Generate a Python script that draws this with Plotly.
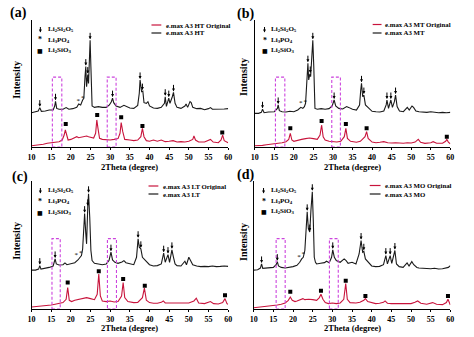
import plotly.graph_objects as go

# ---------------- data (2Theta in degree, intensity in a.u., black pattern offset upward) -------------
tt_black_a = [10.0,11.0,11.7,12.1,12.5,13.5,14.5,15.5,15.9,16.1,16.4,17.0,18.0,18.8,19.5,20.5,21.5,22.0,22.5,23.0,23.3,23.6,23.8,24.0,24.3,24.5,24.7,24.9,25.1,25.4,26.0,27.0,28.0,29.0,29.8,30.3,30.6,30.9,31.5,32.5,33.5,34.0,35.0,36.0,37.0,37.4,37.6,38.0,38.3,38.6,39.2,39.6,40.0,41.0,42.0,43.0,43.8,44.0,44.3,44.9,45.2,45.8,46.1,46.5,47.0,48.0,49.0,49.3,49.7,50.3,50.6,51.0,52.0,53.0,54.0,55.0,55.5,56.0,57.0,58.0,59.0,60.0]
I_black_a = [27.0,27.6,28.3,31.0,28.1,28.3,29.1,29.1,32.3,36.0,30.4,29.7,29.7,31.0,29.7,30.2,31.2,33.9,33.1,37.0,38.3,55.4,63.3,47.5,57.0,50.1,68.5,84.0,63.0,32.3,31.2,31.8,31.2,31.2,33.1,35.7,38.5,34.9,32.3,31.2,32.8,32.3,30.7,30.4,32.8,42.3,52.8,43.6,44.0,34.9,34.4,35.7,32.3,30.7,30.4,31.2,34.4,39.6,32.0,38.5,34.4,39.6,43.0,34.4,31.2,30.4,32.3,33.9,31.2,35.7,34.9,31.2,30.2,30.4,29.4,30.2,31.0,29.7,29.7,29.4,29.9,30.2]
tt_red_a = [10,11,12,13,14,15,16,17,17.8,18.3,18.6,18.9,19.3,20,21,21.5,22,23,24,24.5,25,25.8,26.3,26.6,26.9,27.3,28,29,30,31,32,32.5,32.8,33.2,33.7,35,36,37,37.8,38.2,38.6,39.2,40,41,42,43,44,45,46,47,48,49,50,51,51.3,51.7,52.5,54,55,55.5,56.2,57.5,58.2,58.6,59.0,60]
I_red_a = [1.0,1.3,1.8,2.1,2.9,3.4,3.7,4.2,5.5,9.4,13.4,9.4,5.5,6.0,7.6,8.1,7.3,8.1,8.7,8.1,7.6,7.1,10.8,21.3,14.7,6.8,6.0,5.5,5.5,6.0,6.6,10.8,19.2,12.1,6.0,5.5,5.0,5.5,8.1,14.7,8.1,5.0,4.5,5.5,4.5,5.5,4.2,4.5,5.0,3.9,4.2,3.9,4.5,6.0,8.7,5.5,3.9,3.9,5.5,6.0,3.9,3.4,5.5,9.4,5.0,3.4]

tt_black_b = [10,11,11.7,12.0,12.4,13.5,15,15.8,16.0,16.3,17,18,19,20,21,21.8,22.3,22.7,23.0,23.4,23.6,23.8,24.1,24.3,24.6,24.85,25.1,25.4,26,27,28,29,29.8,30.3,30.7,31.5,32.5,33.5,34,35,36,36.8,37.1,37.3,37.6,37.9,38.3,39,39.5,40,41,42,43,43.6,43.8,44.2,44.8,45.2,45.7,46.0,46.4,47,48,49,49.5,50.2,50.6,51.2,52,53,54,55,56,57,58,59,60]
I_black_b = [26.5,26.5,27.3,29.7,27.0,27.6,27.8,30.4,33.1,28.6,27.8,27.6,28.1,27.8,29.1,31.2,30.4,31.8,34.4,52.8,66.0,52.8,57.5,55.4,76.4,84.0,63.3,30.4,29.7,30.2,29.7,30.2,32.3,37.0,32.3,30.4,29.9,31.8,31.2,29.7,29.1,33.1,44.9,50.1,39.6,40.9,33.1,31.2,29.1,28.1,27.8,27.6,28.3,33.1,37.0,30.4,37.0,31.2,35.7,40.9,31.8,28.3,27.8,31.2,29.1,32.3,31.2,28.3,27.8,27.6,27.3,27.8,27.3,27.0,27.3,27.0,27.3]
tt_red_b = [10,11,12,13,14,15,16,17,18,18.7,19.1,19.5,20,21,22,23,24,25,26,26.7,27.1,27.5,28,29,30,31,32,32.9,33.3,33.7,34.5,36,37,38.2,38.6,39.0,40,41,42,43,44,45,46,47,48,49,50,51,51.8,52.4,53.5,55,55.6,56.5,58,58.8,59.1,59.5,60]
I_red_b = [1.0,1.0,1.3,1.8,2.1,2.4,2.9,3.4,4.2,6.0,10.8,5.5,4.5,5.5,6.0,6.6,7.1,6.6,6.0,9.4,17.3,8.1,5.5,4.5,4.2,3.9,4.5,8.1,14.7,6.8,4.5,3.7,4.5,8.1,12.1,6.8,3.9,3.4,3.7,4.2,3.4,3.1,3.4,3.1,2.9,3.4,3.1,3.9,6.0,3.7,2.9,3.4,4.2,2.9,2.9,4.5,6.0,3.9,2.4]

tt_black_c = [10,11,11.8,12.1,12.4,13.5,14.5,15.5,15.8,16.0,16.3,17,18,18.5,19,20,21,21.8,22.3,22.7,23.0,23.3,23.5,23.8,24.0,24.3,24.5,24.8,25.1,25.4,26,27,28,29,29.7,30.2,30.6,31.2,32,33,33.5,34,35,36,36.7,37.1,37.4,37.8,38.2,38.9,39.5,40,41,42,43,43.6,44.0,44.7,45.1,45.7,46.1,46.5,47,48,49,49.4,50,50.5,51,52,53,54,55,56,57,58,59,60]
I_black_c = [30.4,30.4,31.2,33.9,31.2,31.8,32.5,33.6,36.5,39.1,35.2,34.4,34.6,36.0,34.6,35.2,36.2,38.3,40.4,41.7,47.0,64.0,74.5,58.8,50.9,79.8,90.0,71.9,45.7,37.8,35.7,35.2,34.6,35.2,37.8,44.4,38.3,36.5,35.7,36.7,37.8,36.2,35.2,34.6,40.4,54.9,48.3,47.0,40.4,38.3,36.5,34.6,33.6,33.9,35.2,43.6,36.5,42.5,36.5,46.2,40.4,35.2,33.9,33.6,37.3,34.6,40.4,37.3,34.6,33.6,33.1,33.3,33.1,33.6,33.1,33.3,33.6,33.3]
tt_red_c = [10,11,12,13,14,15,16,17,18,18.8,19.2,19.6,20.2,21,22,23,24,25,26,26.7,27.1,27.5,28,29,30,31,32,32.9,33.3,33.7,34.5,36,37,38.2,38.7,39.2,40,41,42,43,43.5,44,45,46,47,48,49,50,51.3,51.9,52.5,54,55.5,56.3,57.5,58.6,59.2,59.7,60]
I_red_c = [1.6,1.8,2.1,2.6,2.9,3.1,3.7,4.2,5.0,7.6,16.8,6.8,5.8,6.8,7.6,8.4,8.9,8.1,7.3,11.5,27.3,10.2,6.3,5.8,6.3,5.5,5.8,10.2,20.7,8.9,5.8,5.0,5.2,8.9,16.3,6.8,5.0,4.5,4.5,5.2,6.3,4.7,4.7,4.2,4.5,4.2,4.2,4.7,6.3,8.4,4.7,4.2,5.8,4.2,3.9,5.0,8.1,4.2,3.7]

tt_black_d = [10,11,11.7,12.0,12.3,13.5,15,15.7,16.0,16.3,17,18,19,20,21,21.7,22.2,22.6,23.0,23.3,23.6,23.9,24.25,24.55,24.9,25.15,25.4,25.7,26,27,28,28.5,29.2,29.8,30.1,30.5,31.0,32,33,33.5,34,35,36,36.8,37.3,37.7,38.0,38.4,39,39.5,40,41,42,43,43.6,44.0,44.7,45.1,45.6,45.9,46.3,47,48,49,49.5,50.2,50.7,51.5,52,53,54,55,56,57,58,59,59.5,60]
I_black_d = [30.4,30.7,32.0,35.2,31.8,32.0,32.5,34.6,37.0,33.6,32.5,32.0,32.5,33.1,34.1,36.5,39.1,40.4,45.7,64.0,75.9,62.7,60.1,77.2,91.6,69.3,40.4,36.5,35.2,35.7,36.2,37.3,36.2,40.4,46.2,40.4,37.8,36.5,39.1,37.8,35.7,36.5,35.2,43.0,53.5,44.4,45.1,39.1,37.3,35.2,33.6,33.1,33.3,34.6,41.7,35.2,41.7,35.7,43.0,45.7,35.2,33.1,32.5,36.0,33.6,37.0,34.6,32.5,32.0,31.8,32.0,31.5,31.8,31.2,31.5,32.0,32.5,33.9]
tt_red_d = [10,11,12,13,14,15,16,17,18,18.8,19.3,19.8,20.5,21,22,22.5,23,24,25,26,26.7,27.1,27.6,28.2,29,30,31,32,32.9,33.4,33.8,34.5,36,37,38,38.4,39,40,41,42,43,43.4,44,45,46,47,48,49,50,51,51.7,52.5,54,55.5,56.5,58,59,59.4,59.8,60]
I_red_d = [1.0,1.3,1.6,2.1,2.4,2.9,3.1,3.7,4.7,6.8,9.4,6.8,5.8,6.3,7.1,8.1,7.3,7.6,7.3,6.8,8.9,11.5,7.6,5.0,4.2,4.7,4.2,4.7,7.6,19.9,7.6,5.0,4.7,5.2,6.8,8.1,5.8,4.7,4.2,4.5,5.2,6.3,4.5,4.2,4.2,3.9,3.7,4.2,4.2,5.2,6.3,4.5,3.7,5.0,3.7,3.4,5.0,7.6,4.2,3.1]

# phase markers (position, height of peak top)
arrow_tt = {"a": [12.1,16.1,23.8,24.3,24.9,30.6,37.6,38.2,44.0,44.9,46.1],
            "b": [12.0,16.0,23.6,24.2,24.85,30.3,37.3,37.9,43.8,44.8,46.0],
            "c": [12.1,16.0,23.5,24.3,24.5,30.2,37.1,37.8,43.6,44.7,45.7],
            "d": [12.0,16.0,23.6,24.25,24.9,30.1,37.3,38.0,43.6,44.7,45.9]}
arrow_I = {"a": [31.0,36.0,63.3,57.0,84.0,38.5,52.8,44.0,39.6,38.5,43.0],
           "b": [29.7,33.1,66.0,57.5,84.0,37.0,50.1,40.9,37.0,37.0,40.9],
           "c": [33.9,39.1,74.5,79.8,90.0,44.4,54.9,47.0,43.6,42.5,46.2],
           "d": [35.2,37.0,75.9,60.1,91.6,46.2,53.5,45.1,41.7,41.7,45.7]}
star_tt = {"a": [21.9,23.0], "b": [21.8,22.9], "c": [21.4,22.5], "d": [21.5,22.6]}
star_I = {"a": [33.5,35.5], "b": [31.5,32.5], "c": [39.0,41.0], "d": [38.0,40.0]}
sq_tt = {"a": [18.7,26.7,32.8,38.2,58.5], "b": [19.1,27.1,33.3,38.6,59.1],
         "c": [19.2,27.1,33.3,38.8,59.2], "d": [19.3,27.1,33.4,38.4,59.4]}
sq_I = {"a": [18.1,25.2,23.4,16.5,11.5], "b": [14.7,20.5,18.1,14.7,8.1],
        "c": [20.7,29.4,23.4,18.1,10.8], "d": [13.4,14.2,22.0,10.2,10.2]}
# dashed boxes (2Theta ranges)
boxes = {"a": [(15.3,17.7),(29.25,31.5)], "b": [(15.3,17.7),(29.7,31.9)],
         "c": [(15.2,17.3),(29.3,31.6)], "d": [(15.7,18.0),(29.25,31.5)]}
box_top = 55
series_names = {"a": "HT", "b": "MT", "c": "LT", "d": "MO"}
xticks = [10, 15, 20, 25, 30, 35, 40, 45, 50, 55, 60]

data = {"a": (tt_black_a, I_black_a, tt_red_a, I_red_a),
        "b": (tt_black_b, I_black_b, tt_red_b, I_red_b),
        "c": (tt_black_c, I_black_c, tt_red_c, I_red_c),
        "d": (tt_black_d, I_black_d, tt_red_d, I_red_d)}

# ---------------- layout helpers ----------------
W, H = 474, 337
def px(x): return x / W
def py(y): return 1 - y / H

SERIF = "Liberation Serif"
RED = "#C8143C"
BLACK = "#1a1a1a"
MAG = "#CC44DD"

panels = {
    "a": dict(ax="", x0=28, x1=228, y0=147, y1=20, lab=(15, 13), inten=(12, 80), title_y=166.5,
              sym_x=37, txt_x=43, rows=(29, 39.5, 50), leg_x=(150, 160), leg_txt=163, leg_y=(25, 33)),
    "b": dict(ax="2", x0=255, x1=454, y0=147, y1=20, lab=(246, 14), inten=(243, 77), title_y=166.5,
              sym_x=265, txt_x=270, rows=(29, 40, 50), leg_x=(375, 384), leg_txt=386, leg_y=(24.5, 33)),
    "c": dict(ax="3", x0=28, x1=228, y0=309, y1=181, lab=(16, 177), inten=(12, 241), title_y=327.5,
              sym_x=37, txt_x=43, rows=(190, 201, 212), leg_x=(147, 157), leg_txt=160, leg_y=(186, 194)),
    "d": dict(ax="4", x0=254, x1=454, y0=309, y1=181, lab=(246, 175), inten=(243, 242), title_y=327.5,
              sym_x=264, txt_x=270, rows=(190, 201, 211), leg_x=(372, 383), leg_txt=386, leg_y=(185.5, 194)),
}

fig = go.Figure()
annotations = []
shapes = []
layout = dict(width=W, height=H, margin=dict(l=0, r=0, t=0, b=0),
              paper_bgcolor="white", plot_bgcolor="white", showlegend=False)

for key, p in panels.items():
    xa, ya = "x" + p["ax"], "y" + p["ax"]
    tb, Ib, tr, Ir = data[key]
    for (b0, b1) in boxes[key]:
        shapes.append(dict(type="rect", xref=xa, yref=ya, x0=b0, x1=b1, y0=0, y1=box_top,
                           line=dict(color=MAG, width=1.1, dash="3px,2px"), layer="above"))
    fig.add_trace(go.Scatter(x=tr, y=Ir, mode="lines", line=dict(color=RED, width=1.1),
                             xaxis=xa, yaxis=ya, hoverinfo="skip"))
    fig.add_trace(go.Scatter(x=tb, y=Ib, mode="lines", line=dict(color=BLACK, width=1.1),
                             xaxis=xa, yaxis=ya, hoverinfo="skip"))
    fig.add_trace(go.Scatter(x=sq_tt[key], y=sq_I[key], mode="markers",
                             marker=dict(symbol="square", size=4, color="black"),
                             xaxis=xa, yaxis=ya, hoverinfo="skip"))
    fig.add_trace(go.Scatter(x=star_tt[key], y=star_I[key], mode="text", text=["*"] * len(star_tt[key]),
                             textposition="top center", textfont=dict(family=SERIF, size=7, color="black"),
                             xaxis=xa, yaxis=ya, hoverinfo="skip"))
    for t, I in zip(arrow_tt[key], arrow_I[key]):
        annotations.append(dict(x=t, y=I, xref=xa, yref=ya, text="", showarrow=True,
                                ax=0, ay=-9, arrowhead=2, arrowsize=0.6, arrowwidth=1,
                                arrowcolor="black", standoff=1))

    axname = "xaxis" + p["ax"]
    yname = "yaxis" + p["ax"]
    layout[axname] = dict(domain=[px(p["x0"]), px(p["x1"])], range=[10, 60], tickvals=xticks,
                          ticks="outside", ticklen=2, tickwidth=1, tickcolor="black",
                          showline=True, linecolor="black", linewidth=1, showgrid=False, zeroline=False,
                          tickfont=dict(family=SERIF, size=8, color="black", weight="bold"),
                          anchor=ya)
    layout[yname] = dict(domain=[py(p["y0"]), py(p["y1"])], range=[0, 100], showline=True,
                         linecolor="black", linewidth=1, showgrid=False, zeroline=False,
                         showticklabels=False, ticks="", anchor=xa)

    # panel label
    annotations.append(dict(x=px(p["lab"][0]), y=py(p["lab"][1]), xref="paper", yref="paper",
                            text="(" + key + ")", showarrow=False, xanchor="center", yanchor="middle",
                            font=dict(family=SERIF, size=14, color="black", weight="bold")))
    # axis titles
    annotations.append(dict(x=px((p["x0"] + p["x1"]) / 2), y=py(p["title_y"]), xref="paper", yref="paper",
                            text="2Theta (degree)", showarrow=False, xanchor="center", yanchor="middle",
                            font=dict(family=SERIF, size=8.5, color="black", weight="bold")))
    annotations.append(dict(x=px(p["inten"][0]), y=py(p["inten"][1]), xref="paper", yref="paper",
                            text="Intensity", showarrow=False, textangle=-90, xanchor="center", yanchor="middle",
                            font=dict(family=SERIF, size=10, color="black", weight="bold")))
    # phase legend
    r0, r1, r2 = p["rows"]
    annotations.append(dict(x=px(p["sym_x"]), y=py(r0 + 3.5), xref="paper", yref="paper", text="",
                            showarrow=True, ax=0, ay=-7, arrowhead=2, arrowsize=0.6, arrowwidth=1,
                            arrowcolor="black"))
    annotations.append(dict(x=px(p["sym_x"]), y=py(r1), xref="paper", yref="paper", text="*",
                            showarrow=False, xanchor="center", yanchor="middle",
                            font=dict(family=SERIF, size=8, color="black", weight="bold")))
    annotations.append(dict(x=px(p["sym_x"]), y=py(r2), xref="paper", yref="paper", text="■",
                            showarrow=False, xanchor="center", yanchor="middle",
                            font=dict(family="DejaVu Sans", size=6, color="black")))
    for r, txt in zip(p["rows"], ["Li<sub>2</sub>Si<sub>2</sub>O<sub>5</sub>",
                                  "Li<sub>3</sub>PO<sub>4</sub>",
                                  "Li<sub>2</sub>SiO<sub>3</sub>"]):
        annotations.append(dict(x=px(p["txt_x"]), y=py(r), xref="paper", yref="paper", text=txt,
                                showarrow=False, xanchor="left", yanchor="middle",
                                font=dict(family=SERIF, size=7, color="black", weight="bold")))
    # series legend
    name = series_names[key]
    for yy, col, txt in zip(p["leg_y"], [RED, BLACK],
                            ["e.max A3 " + name + " Original", "e.max A3 " + name]):
        shapes.append(dict(type="line", xref="paper", yref="paper", x0=px(p["leg_x"][0]), x1=px(p["leg_x"][1]),
                           y0=py(yy), y1=py(yy), line=dict(color=col, width=1.2)))
        annotations.append(dict(x=px(p["leg_txt"]), y=py(yy), xref="paper", yref="paper", text=txt,
                                showarrow=False, xanchor="left", yanchor="middle",
                                font=dict(family=SERIF, size=6.8, color="black", weight="bold")))

layout["annotations"] = annotations
layout["shapes"] = shapes
fig.update_layout(**layout)
fig.write_html("out.html")
